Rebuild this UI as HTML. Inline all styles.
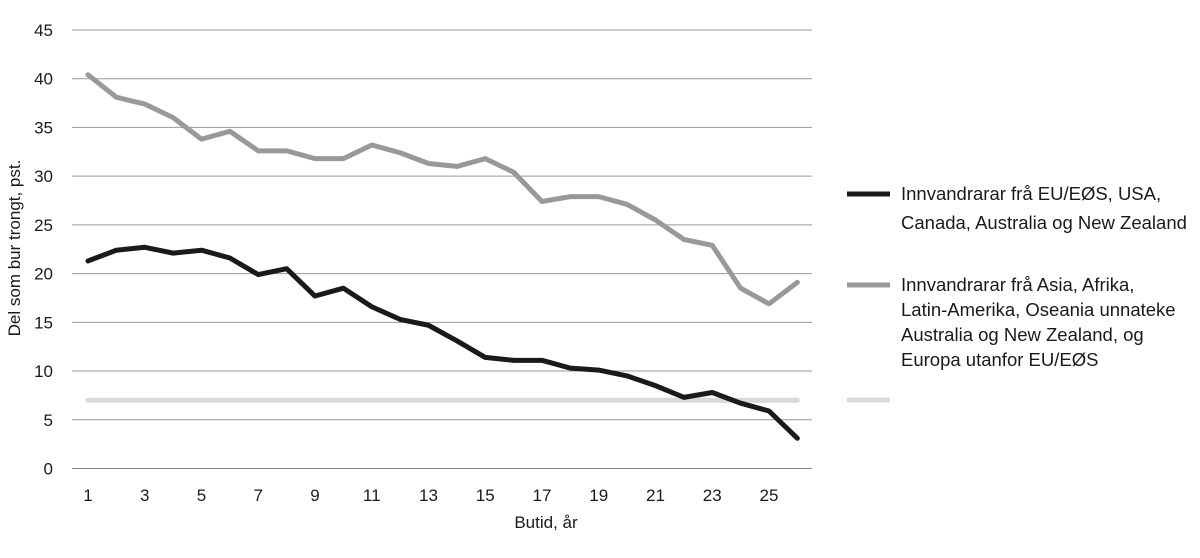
<!DOCTYPE html>
<html><head><meta charset="utf-8"><style>
body{margin:0;background:#fff;font-family:"Liberation Sans",sans-serif;}
svg text{font-family:"Liberation Sans",sans-serif;fill:#1a1a1a;}
</style></head><body>
<svg width="1200" height="553">
<g id="grid"></g><g id="ticks"></g><g id="lines"></g>
<text x="546" y="528" font-size="17" text-anchor="middle">Butid, år</text>
<text transform="translate(20,248) rotate(-90)" font-size="17" text-anchor="middle">Del som bur trongt, pst.</text>
<g font-size="18.5">
<line x1="847" y1="194" x2="890" y2="194" stroke="#1a1a1a" stroke-width="5"/>
<text x="901" y="200"><tspan x="901">Innvandrarar frå EU/EØS, USA,</tspan><tspan x="901" dy="29">Canada, Australia og New Zealand</tspan></text>
<line x1="847" y1="285" x2="890" y2="285" stroke="#999" stroke-width="5"/>
<text x="901" y="291"><tspan x="901">Innvandrarar frå Asia, Afrika,</tspan><tspan x="901" dy="25">Latin-Amerika, Oseania unnateke</tspan><tspan x="901" dy="25">Australia og New Zealand, og</tspan><tspan x="901" dy="25">Europa utanfor EU/EØS</tspan></text>
<line x1="847" y1="400" x2="890" y2="400" stroke="#d9d9d9" stroke-width="5"/>
</g>
</svg>
<script>
const years=[1,2,3,4,5,6,7,8,9,10,11,12,13,14,15,16,17,18,19,20,21,22,23,24,25,26];
const seriesAsia=[40.4,38.1,37.4,36.0,33.8,34.6,32.6,32.6,31.8,31.8,33.2,32.4,31.3,31.0,31.8,30.4,27.4,27.9,27.9,27.1,25.5,23.5,22.9,18.5,16.9,19.1];
const seriesEu=[21.3,22.4,22.7,22.1,22.4,21.6,19.9,20.5,17.7,18.5,16.6,15.3,14.7,13.1,11.4,11.1,11.1,10.3,10.1,9.5,8.5,7.3,7.8,6.7,5.9,3.1];
const seriesAll=[7,7,7,7,7,7,7,7,7,7,7,7,7,7,7,7,7,7,7,7,7,7,7,7,7,7];
const yTicks=[0,5,10,15,20,25,30,35,40,45];
const xTicks=[1,3,5,7,9,11,13,15,17,19,21,23,25];
const NS='http://www.w3.org/2000/svg';
const xs=v=>88+(v-1)*28.375;
const ys=v=>468.5-v*9.745;
function mk(t,a,p){const e=document.createElementNS(NS,t);for(const k in a)e.setAttribute(k,a[k]);p.appendChild(e);return e;}
const grid=document.getElementById('grid'),ticks=document.getElementById('ticks'),lines=document.getElementById('lines');
yTicks.forEach(v=>{
 const l=mk('line',{x1:72,x2:812,y1:ys(v),y2:ys(v),stroke:v===0?'#888':'#999','stroke-width':1},grid);
 
 
 const t=mk('text',{x:53,y:ys(v)+6,'font-size':17,'text-anchor':'end'},ticks);
 t.textContent=v;
 
 
});
xTicks.forEach(v=>{
 const t=mk('text',{x:xs(v),y:501,'font-size':17,'text-anchor':'middle'},ticks);
 t.textContent=v;
 
 
});
function draw(s,c,n){
 const p=mk('polyline',{points:years.map((y,i)=>xs(y)+','+ys(s[i])).join(' '),fill:'none',stroke:c,'stroke-width':5,'stroke-linejoin':'round','stroke-linecap':'round'},lines);
 
 
}
draw(seriesAll,'#d9d9d9','line-all');
draw(seriesAsia,'#999','line-asia');
draw(seriesEu,'#1a1a1a','line-eu');
</script>
</body></html>
